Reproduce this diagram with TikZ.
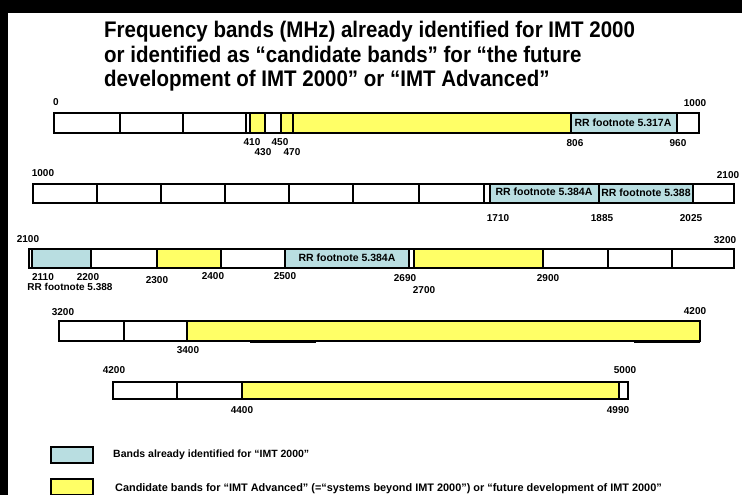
\documentclass[tikz,border=0pt]{standalone}
\usepackage{fontspec}
\setmainfont{Liberation Sans}
\definecolor{bandcyan}{RGB}{185,222,225}
\definecolor{bandyellow}{RGB}{255,255,102}
\begin{document}
\begin{tikzpicture}[x=1pt,y=-1pt,
  seg/.style={draw=black,line width=1.8pt},
  cy/.style={seg,fill=bandcyan},
  ye/.style={seg,fill=bandyellow},
  wh/.style={seg,fill=white},
  num/.style={font=\fontsize{10}{11}\selectfont\bfseries, inner sep=0pt},
  inlab/.style={font=\fontsize{10.5}{11}\selectfont\bfseries, inner sep=0pt},
  legtext/.style={font=\fontsize{10.5}{11}\selectfont\bfseries, inner sep=0pt, anchor=west},
  ttl/.style={font=\fontsize{20.5}{24}\selectfont\bfseries, anchor=base west, inner sep=0pt, yscale=1.1}]
\fill[black] (0,0) rectangle (742,495);
\fill[white] (8,13) rectangle (742,495);
\useasboundingbox (0,0) rectangle (742,495);

% title
\node[ttl] (t1) at (104,38) {Frequency bands (MHz) already identified for IMT 2000};
\node[ttl] (t2) at (104,63) {or identified as “candidate bands” for “the future};
\node[ttl] (t3) at (104,87) {development of IMT 2000” or “IMT Advanced”};

% row 1
\draw[wh] (54,113) rectangle (120,133);
\draw[wh] (120,113) rectangle (183,133);
\draw[wh] (183,113) rectangle (246,133);
\draw[wh] (246,113) rectangle (250,133);
\draw[ye] (250,113) rectangle (265,133);
\draw[wh] (265,113) rectangle (281,133);
\draw[ye] (281,113) rectangle (293,133);
\draw[ye] (293,113) rectangle (571,133);
\draw[cy] (571,113) rectangle (677,133);
\draw[wh] (677,113) rectangle (699,133);
\node[inlab] (r1c) at (623,122.5) {RR footnote 5.317A};
\node[num] (a0) at (56,102) {0};
\node[num] (a1000) at (695,103) {1000};
\node[num] (a410) at (252,142) {410};
\node[num] (a430) at (263,152) {430};
\node[num] (a450) at (280,142) {450};
\node[num] (a470) at (292,152) {470};
\node[num] (a806) at (575,143) {806};
\node[num] (a960) at (678,143) {960};

% row 2
\draw[wh] (33,184) rectangle (97,203);
\draw[wh] (97,184) rectangle (161,203);
\draw[wh] (161,184) rectangle (225,203);
\draw[wh] (225,184) rectangle (289,203);
\draw[wh] (289,184) rectangle (353,203);
\draw[wh] (353,184) rectangle (419,203);
\draw[wh] (419,184) rectangle (484,203);
\draw[wh] (484,184) rectangle (490,203);
\draw[cy] (490,184) rectangle (599,203);
\draw[cy] (599,184) rectangle (693,203);
\draw[wh] (693,184) rectangle (734,203);
\node[inlab] (r2c1) at (544,192) {RR footnote 5.384A};
\node[inlab] (r2c2) at (646,193) {RR footnote 5.388};
\node[num] (b1000) at (43,173) {1000};
\node[num] (b2100) at (728,175) {2100};
\node[num] (b1710) at (498,218) {1710};
\node[num] (b1885) at (602,218) {1885};
\node[num] (b2025) at (691,218) {2025};

% row 3
\draw[wh] (29,249) rectangle (32,268);
\draw[cy] (32,249) rectangle (91,268);
\draw[wh] (91,249) rectangle (157,268);
\draw[ye] (157,249) rectangle (221,268);
\draw[wh] (221,249) rectangle (285,268);
\draw[cy] (285,249) rectangle (409,268);
\draw[wh] (409,249) rectangle (414,268);
\draw[ye] (414,249) rectangle (543,268);
\draw[wh] (543,249) rectangle (608,268);
\draw[wh] (608,249) rectangle (672,268);
\draw[wh] (672,249) rectangle (734,268);
\node[inlab] (r3c) at (347,257.5) {RR footnote 5.384A};
\node[num] (c2100) at (28,239) {2100};
\node[num] (c3200) at (725,240) {3200};
\node[num] (c2110) at (43,277) {2110};
\node[num] (c2200) at (88,277) {2200};
\node[num] (crr) at (70,287) {RR footnote 5.388};
\node[num] (c2300) at (157,280) {2300};
\node[num] (c2400) at (213,276) {2400};
\node[num] (c2500) at (285,276) {2500};
\node[num] (c2690) at (405,278) {2690};
\node[num] (c2700) at (424,290) {2700};
\node[num] (c2900) at (548,278) {2900};

% row 4
\draw[wh] (59,321) rectangle (124,341);
\draw[wh] (124,321) rectangle (187,341);
\draw[ye] (187,321) rectangle (700,341);
\draw[line width=2.4pt] (250,342) -- (316,342);
\draw[line width=2.4pt] (634,342) -- (700,342);
\node[num] (d3200) at (63,312) {3200};
\node[num] (d3400) at (188,350) {3400};
\node[num] (d4200) at (695,311) {4200};

% row 5
\draw[wh] (113,382) rectangle (177,399);
\draw[wh] (177,382) rectangle (242,399);
\draw[ye] (242,382) rectangle (619,399);
\draw[wh] (619,382) rectangle (628,399);
\node[num] (e4200) at (114,370) {4200};
\node[num] (e4400) at (242,410) {4400};
\node[num] (e5000) at (625,370) {5000};
\node[num] (e4990) at (618,410) {4990};

% legend
\draw[cy] (51,447) rectangle (93,463);
\node[legtext] (l1) at (113,455) {Bands already identified for “IMT 2000”};
\draw[ye] (51,479) rectangle (93,495);
\node[legtext, font=\fontsize{10.9}{11}\selectfont\bfseries] (l2) at (115,489) {Candidate bands for “IMT Advanced” (=“systems beyond IMT 2000”) or “future development of IMT 2000”};
\end{tikzpicture}
\end{document}
